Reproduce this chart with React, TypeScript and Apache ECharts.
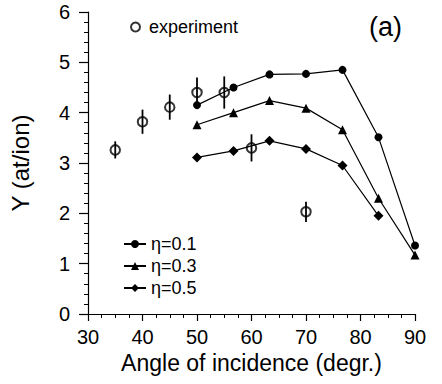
import React, { useEffect, useRef } from "react";
import * as echarts from "echarts";

const angles = [50, 56.7, 63.3, 70, 76.7, 83.3, 90];
const eta01 = [4.15, 4.5, 4.76, 4.77, 4.85, 3.51, 1.36];
const eta03 = [3.76, 4.0, 4.24, 4.09, 3.66, 2.3, 1.17];
const eta05Angles = [50, 56.7, 63.3, 70, 76.7, 83.3];
const eta05 = [3.11, 3.24, 3.44, 3.28, 2.95, 1.95];

const expAngles = [35, 40, 45, 50, 55, 60, 70];
const expY = [3.26, 3.82, 4.11, 4.4, 4.4, 3.3, 2.03];
const expErr = [0.17, 0.24, 0.25, 0.3, 0.32, 0.27, 0.2];

const xTicks = [30, 40, 50, 60, 70, 80, 90];
const yTicks = [0, 1, 2, 3, 4, 5, 6];

const FONT = "Liberation Sans, Arial, Helvetica, sans-serif";

export default function App() {
  const ref = useRef<HTMLDivElement>(null);
  useEffect(() => {
    if (!ref.current) return;
    const chart = echarts.init(ref.current, null, { renderer: "svg" });
    const pair = (xs: number[], ys: number[]) => xs.map((x, i) => [x, ys[i]]);
    const lineSeries = (name: string, xs: number[], ys: number[], symbol: string, size: number) => ({
      name,
      type: "line",
      data: pair(xs, ys),
      symbol,
      symbolSize: size,
      showSymbol: true,
      lineStyle: { color: "#000", width: 1.2 },
      itemStyle: { color: "#000" },
      z: 3,
    });
    chart.setOption({
      animation: false,
      backgroundColor: "#fff",
      textStyle: { fontFamily: FONT, color: "#000" },
      title: {
        text: "(a)",
        left: 364,
        top: 8,
        textStyle: { fontFamily: FONT, fontSize: 27, fontWeight: "normal", color: "#000" },
      },
      grid: { left: 88, right: 27, top: 12, bottom: 70 },
      legend: [
        {
          data: ["experiment"],
          orient: "horizontal",
          left: 125,
          top: 13,
          itemWidth: 9,
          itemHeight: 9,
          textStyle: { fontFamily: FONT, fontSize: 18, color: "#000", padding: [0, 0, 0, 4] },
        },
        {
          data: ["η=0.1", "η=0.3", "η=0.5"],
          orient: "vertical",
          left: 118,
          top: 230,
          itemWidth: 22,
          itemHeight: 10,
          itemGap: 4,
          textStyle: { fontFamily: FONT, fontSize: 18, color: "#000" },
        },
      ],
      xAxis: {
        type: "value",
        min: xTicks[0],
        max: xTicks[xTicks.length - 1],
        interval: 10,
        name: "Angle of incidence (degr.)",
        nameLocation: "middle",
        nameGap: 37,
        nameTextStyle: { fontFamily: FONT, fontSize: 23, color: "#000" },
        axisLine: { show: true, onZero: false, lineStyle: { color: "#000", width: 1.2 } },
        axisTick: { show: true, length: 7, lineStyle: { color: "#000", width: 1.2 } },
        minorTick: { show: true, splitNumber: 4, length: 4, lineStyle: { color: "#000", width: 1 } },
        axisLabel: { fontFamily: FONT, fontSize: 20, color: "#000", margin: 13 },
        splitLine: { show: false },
      },
      yAxis: {
        type: "value",
        min: yTicks[0],
        max: yTicks[yTicks.length - 1],
        interval: 1,
        name: "Y (at/ion)",
        nameLocation: "middle",
        nameGap: 56,
        nameTextStyle: { fontFamily: FONT, fontSize: 24, color: "#000" },
        axisLine: { show: true, onZero: false, lineStyle: { color: "#000", width: 1.2 } },
        axisTick: { show: true, length: 9, lineStyle: { color: "#000", width: 1.2 } },
        minorTick: { show: true, splitNumber: 5, length: 4, lineStyle: { color: "#000", width: 1 } },
        axisLabel: { fontFamily: FONT, fontSize: 20, color: "#000", margin: 18 },
        splitLine: { show: false },
      },
      series: [
        lineSeries("η=0.1", angles, eta01, "circle", 8),
        lineSeries("η=0.3", angles, eta03, "triangle", 9),
        lineSeries("η=0.5", eta05Angles, eta05, "diamond", 10),
        {
          name: "experiment",
          type: "scatter",
          data: pair(expAngles, expY),
          symbol: "circle",
          symbolSize: 9.5,
          itemStyle: { color: "rgba(255,255,255,0)", borderColor: "#000", borderWidth: 2 },
          z: 4,
        },
        {
          name: "errors",
          type: "custom",
          data: expAngles.map((x, i) => [x, expY[i], expErr[i]]),
          encode: { x: 0, y: 1 },
          z: 4,
          renderItem: (_params: any, api: any) => {
            const x = api.value(0);
            const y = api.value(1);
            const e = api.value(2);
            const top = api.coord([x, y + e]);
            const bot = api.coord([x, y - e]);
            return {
              type: "line",
              shape: { x1: top[0], y1: top[1], x2: bot[0], y2: bot[1] },
              style: { stroke: "#000", lineWidth: 1.8 },
            };
          },
        },
      ],
    });
    return () => chart.dispose();
  }, []);
  return (
    <div
      ref={ref}
      style={{ position: "fixed", left: 0, top: 0, width: 442, height: 384 }}
    />
  );
}
